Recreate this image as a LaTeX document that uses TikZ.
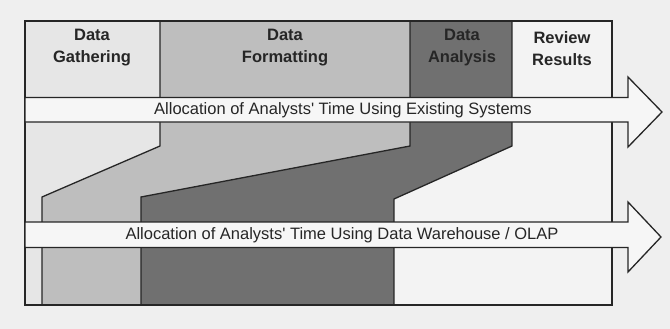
\documentclass[tikz,border=0pt]{standalone}
\usepackage{fontspec}
\setmainfont{Liberation Sans}
\definecolor{bg}{HTML}{EFEFEF}
\definecolor{gath}{HTML}{E6E6E6}
\definecolor{form}{HTML}{BEBEBE}
\definecolor{anal}{HTML}{707070}
\definecolor{rev}{HTML}{F3F3F3}
\definecolor{ink}{HTML}{262626}
\definecolor{shaft}{HTML}{F6F6F6}
\begin{document}
\begin{tikzpicture}[x=1pt,y=-1pt,
  edge/.style={draw=ink,line width=1.3pt,line join=miter},
  band/.style={fill=shaft,draw=ink,line width=1.3pt,line join=miter},
  phase/.style={font=\fontsize{16.5}{22}\selectfont\bfseries,text=ink,align=center,inner sep=0pt},
  alloc/.style={font=\fontsize{16.5}{20}\selectfont,text=ink,inner sep=0pt}]
\fill[bg] (0,0) rectangle (670,329);
\useasboundingbox (0,0) rectangle (670,329);
% column areas
\fill[gath] (25,21) -- (160,21) -- (160,146) -- (42,197) -- (42,305) -- (25,305) -- cycle;
\fill[form] (160,21) -- (410,21) -- (410,146) -- (141,197) -- (141,305) -- (42,305) -- (42,197) -- (160,146) -- cycle;
\fill[anal] (410,21) -- (512,21) -- (512,146) -- (394,199) -- (394,305) -- (141,305) -- (141,197) -- (410,146) -- cycle;
\fill[rev] (512,21) -- (612,21) -- (612,305) -- (394,305) -- (394,199) -- (512,146) -- cycle;
% boundaries
\draw[edge] (160,21) -- (160,146) -- (42,197) -- (42,305);
\draw[edge] (410,21) -- (410,146) -- (141,197) -- (141,305);
\draw[edge] (512,21) -- (512,146) -- (394,199) -- (394,305);
\draw[edge] (25,21) rectangle (612,305);
% arrows
\draw[band] (25,97.5) -- (628,97.5) -- (628,77) -- (662,112) -- (628,147) -- (628,122) -- (25,122) -- cycle;
\draw[band] (25,222) -- (628,222) -- (628,202) -- (661,237) -- (628,272) -- (628,247.5) -- (25,247.5) -- cycle;
% labels
\node[phase] (gather) at (92,48) {Data\\Gathering};
\node[phase] (format) at (285,48) {Data\\Formatting};
\node[phase] (analysis) at (462,48) {Data\\Analysis};
\node[phase] (review) at (562,49) {Review\\Results};
\node[alloc] (existing) at (343,110) {Allocation of Analysts\textquotesingle\ Time Using Existing Systems};
\node[alloc] (olap) at (342,235) {Allocation of Analysts\textquotesingle\ Time Using Data Warehouse / OLAP};
\end{tikzpicture}
\end{document}
